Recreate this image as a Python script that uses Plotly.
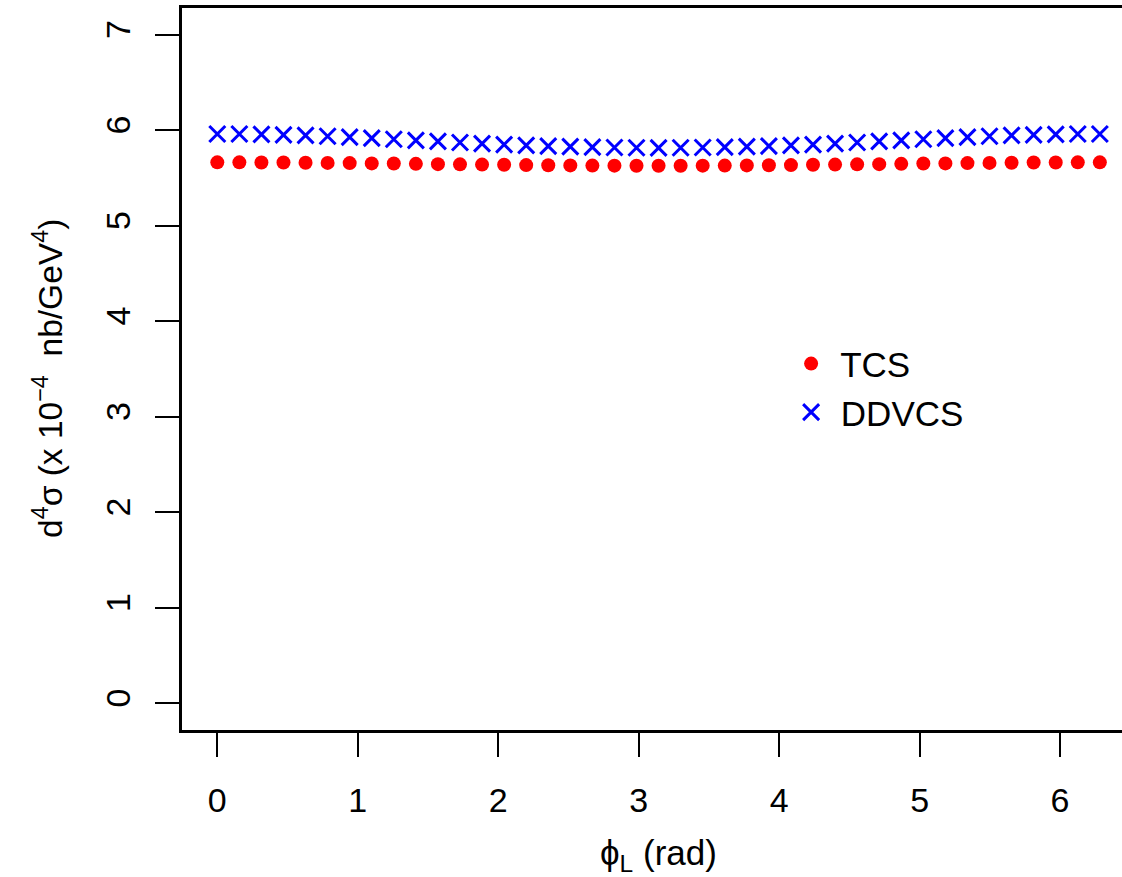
import numpy as np
import plotly.graph_objects as go

# Azimuthal angle grid: 41 points from 0 to 2*pi
phi_L = list(np.linspace(0, 2 * np.pi, 41))

# d^4 sigma in units of 1e-4 nb/GeV^4
tcs = [5.664, 5.664, 5.663, 5.662, 5.660, 5.658, 5.656, 5.653, 5.651, 5.648,
       5.645, 5.643, 5.640, 5.638, 5.635, 5.633, 5.632, 5.630, 5.629, 5.628,
       5.628,
       5.628, 5.629, 5.630, 5.632, 5.633, 5.635, 5.638, 5.640, 5.643, 5.645,
       5.648, 5.651, 5.653, 5.656, 5.658, 5.660, 5.662, 5.663, 5.664, 5.664]

ddvcs = [5.961, 5.960, 5.957, 5.952, 5.946, 5.937, 5.928, 5.917, 5.906, 5.894,
         5.883, 5.871, 5.860, 5.850, 5.841, 5.834, 5.828, 5.823, 5.819, 5.817,
         5.816,
         5.817, 5.819, 5.823, 5.828, 5.834, 5.841, 5.850, 5.860, 5.871, 5.883,
         5.894, 5.906, 5.917, 5.928, 5.937, 5.946, 5.952, 5.957, 5.960, 5.961]

x_ticks = [0, 1, 2, 3, 4, 5, 6]
y_ticks = [0, 1, 2, 3, 4, 5, 6, 7]

FONT = "Liberation Sans, Arial, sans-serif"

fig = go.Figure()
fig.add_trace(go.Scatter(
    x=phi_L, y=tcs, mode="markers", name=" TCS",
    marker=dict(symbol="circle", size=14, color="#FF0000"),
))
fig.add_trace(go.Scatter(
    x=phi_L, y=ddvcs, mode="markers", name=" DDVCS",
    marker=dict(symbol="x-thin-open", size=16, color="#0000FF",
                line=dict(width=3, color="#0000FF")),
))

fig.update_layout(
    width=1122, height=877,
    margin=dict(l=182, r=0, t=8, b=147),
    paper_bgcolor="white", plot_bgcolor="white",
    font=dict(family=FONT, size=34, color="black"),
    showlegend=True,
    legend=dict(
        x=0.648, y=0.548, xanchor="left", yanchor="top",
        bgcolor="rgba(0,0,0,0)", font=dict(size=35),
        itemsizing="trace", tracegroupgap=0,
    ),
    xaxis=dict(
        range=[-0.2513, 6.441], tickvals=x_ticks, ticktext=[str(v) for v in x_ticks],
        showgrid=False, zeroline=False,
        showline=True, linecolor="black", linewidth=2.5, mirror=True,
        ticks="outside", ticklen=24, tickwidth=2, tickcolor="black",
        ticklabelstandoff=14,
    ),
    yaxis=dict(
        range=[-0.28, 7.28], tickvals=y_ticks, ticktext=[str(v) for v in y_ticks],
        showgrid=False, zeroline=False,
        showline=True, linecolor="black", linewidth=2.5, mirror=False,
        ticks="outside", ticklen=24, tickwidth=2, tickcolor="black",
        tickangle=-90, ticklabelstandoff=12,
    ),
    annotations=[
        dict(text="\u03d5<sub>L</sub> (rad)", xref="x", yref="paper",
             x=np.pi, y=-0.173, xanchor="center", yanchor="middle",
             showarrow=False, font=dict(size=35)),
        dict(text="d<sup>4</sup>\u03c3 (x 10<sup>\u22124</sup>  nb/GeV<sup>4</sup>)",
             xref="paper", yref="paper", x=-0.1426, y=0.4875,
             xanchor="center", yanchor="middle", textangle=-90,
             showarrow=False, font=dict(size=33.5)),
    ],
)

fig.write_html("out.html")
